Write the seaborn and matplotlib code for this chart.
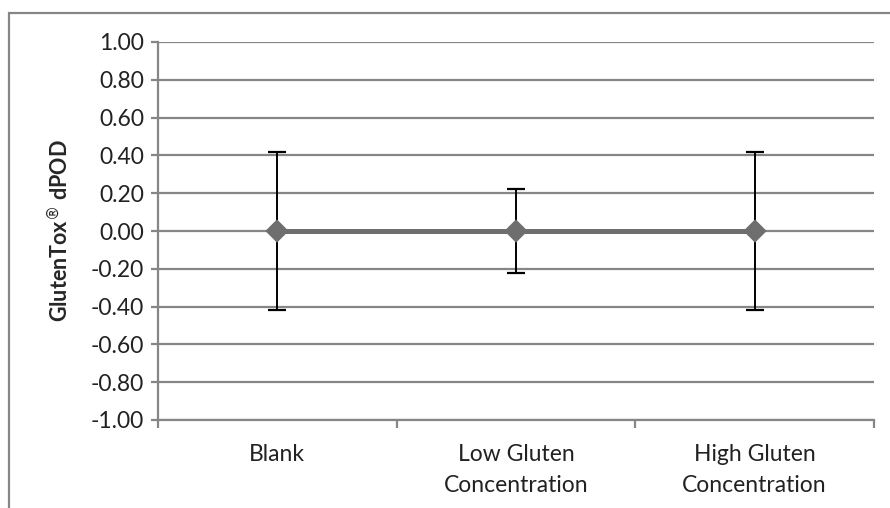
import matplotlib
matplotlib.use("Agg")
import matplotlib.pyplot as plt
import seaborn as sns
import pandas as pd
from matplotlib.patches import Rectangle

categories = ["Blank", "Low Gluten\nConcentration", "High Gluten\nConcentration"]
dpod = [0.0, 0.0, 0.0]
err = [0.42, 0.22, 0.42]
yticks = [1.0, 0.8, 0.6, 0.4, 0.2, 0.0, -0.2, -0.4, -0.6, -0.8, -1.0]

sns.set_theme(style="white")
plt.rcParams["font.family"] = ["Lato", "DejaVu Sans"]

df = pd.DataFrame({"cat": categories, "dpod": dpod, "err": err})

fig = plt.figure(figsize=(8.9, 5.08), dpi=100)
ax = fig.add_axes([158 / 890, 1 - 420 / 508, (874 - 158) / 890, (420 - 42) / 508])

grid_c = "#868686"
line_c = "#6e6e6e"

# outer frame
fig.patches.append(Rectangle((9 / 890, -0.1), 1.2, 1 - 13 / 508 + 0.1,
                             transform=fig.transFigure, fill=False,
                             edgecolor=grid_c, linewidth=1.6, zorder=0))

ax.errorbar(range(len(categories)), df["dpod"], yerr=df["err"], fmt="none",
            ecolor="black", elinewidth=1.4, capsize=6.5, capthick=1.6, zorder=3)
sns.pointplot(data=df, x="cat", y="dpod", color=line_c, markers="D",
              errorbar=None, ax=ax, linewidth=3.6, markersize=9, zorder=4)
for l in ax.lines:
    l.set_zorder(4)

ax.set_ylim(-1.0, 1.0)
ax.set_xlim(-0.5, 2.5)
ax.set_yticks(yticks)
ax.set_yticklabels([f"{v:.2f}" for v in yticks])
ax.yaxis.grid(True, color=grid_c, linewidth=1.6)
ax.set_axisbelow(True)
ax.set_xticks([0, 1, 2])
ax.set_xticklabels(categories)
ax.set_xlabel("")
ax.set_ylabel("GlutenTox$^{®}$ dPOD", fontsize=15.5, fontweight="bold", labelpad=14)

for s in ["top", "right"]:
    ax.spines[s].set_visible(False)
for s in ["left", "bottom"]:
    ax.spines[s].set_color(grid_c)
    ax.spines[s].set_linewidth(1.6)

ax.tick_params(axis="y", which="major", length=5, width=1.6, color=grid_c,
               labelsize=16.5, pad=5, left=True, labelcolor="#222222")
ax.tick_params(axis="x", which="major", length=0, labelsize=16.5, pad=17,
               labelcolor="#222222")
ax.set_xticks([-0.5, 0.5, 1.5, 2.5], minor=True)
ax.tick_params(axis="x", which="minor", length=6, width=1.6, color=grid_c, bottom=True)
for t in ax.get_xticklabels():
    t.set_linespacing(1.6)

fig.savefig("out.png", dpi=100)
